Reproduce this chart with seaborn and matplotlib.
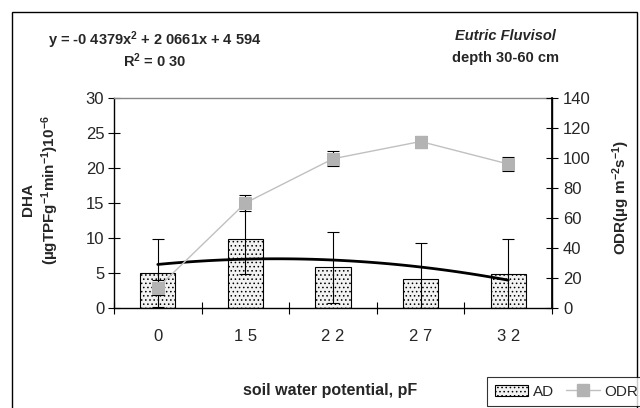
import matplotlib
matplotlib.use('Agg')  # headless

import matplotlib.pyplot as plt
import seaborn as sns
import numpy as np
import pandas as pd
from matplotlib.patches import Rectangle, Patch
from matplotlib.lines import Line2D

# data
pf_labels = ["0", "1 5", "2 2", "2 7", "3 2"]
dha = [5.0, 9.8, 5.8, 4.2, 4.8]
dha_err = [4.9, 5.0, 5.1, 5.1, 5.1]
odr = [13.5, 70.0, 99.5, 111.0, 96.0]
odr_err = [5.0, 5.5, 5.0, 4.0, 4.5]
trend_coef = [-0.4379, 2.0661, 4.594]  # from the equation shown on the chart

sns.set_theme(style="white")
plt.rcParams['font.family'] = ['Liberation Sans', 'DejaVu Sans']
plt.rcParams['mathtext.fontset'] = 'custom'
plt.rcParams['mathtext.rm'] = 'Liberation Sans'
plt.rcParams['mathtext.bf'] = 'Liberation Sans:bold'
plt.rcParams['mathtext.it'] = 'Liberation Sans:italic'
plt.rcParams['mathtext.default'] = 'bf'
plt.rcParams['hatch.linewidth'] = 0.6
plt.rcParams['hatch.color'] = '#555555'

fig = plt.figure(figsize=(6.4, 4.08), dpi=100)
ax = fig.add_axes([114 / 640, 1 - 308 / 408, 438 / 640, 210 / 408])

# bars
df = pd.DataFrame({"pF": pf_labels, "DHA": dha})
sns.barplot(data=df, x="pF", y="DHA", ax=ax, width=0.4, color="#f2f2f2",
            edgecolor="black", linewidth=0.8, hatch="....", saturation=1,
            errorbar=None)
ax.errorbar(range(len(dha)), dha, yerr=dha_err, fmt="none", ecolor="black",
            elinewidth=0.8, capsize=4, capthick=0.8, zorder=3)

# polynomial trendline over category index 1..5
xs = np.linspace(1, len(dha), 60)
sns.lineplot(x=xs - 1, y=np.polyval(trend_coef, xs), ax=ax, color="black",
             linewidth=2, zorder=4)

ax.set_xlim(-0.5, 4.5)
ax.set_ylim(0, 30)
ax.set_yticks(range(0, 31, 5))
ax.set_xlabel("")
ax.set_ylabel("")
ax.set_xticks(range(len(pf_labels)))
ax.set_xticklabels(pf_labels)
ax.set_xticks(np.arange(-0.5, 4.6, 1.0), minor=True)
ax.tick_params(axis="x", which="major", length=0, pad=15, labelsize=12)
ax.tick_params(axis="x", which="minor", direction="inout", length=8,
               width=0.8, color="black", bottom=True)
ax.tick_params(axis="y", direction="inout", length=8, width=0.8,
               color="black", left=True, pad=3, labelsize=12)
for s in ["left", "bottom", "right"]:
    ax.spines[s].set_color("black")
    ax.spines[s].set_linewidth(1)
ax.spines["top"].set_color("#888888")
ax.spines["top"].set_linewidth(1)

# ODR on secondary axis
ax2 = ax.twinx()
ax2.errorbar(range(len(odr)), odr, yerr=odr_err, fmt="none", ecolor="black",
             elinewidth=0.8, capsize=4, capthick=0.8, zorder=2)
sns.lineplot(x=list(range(len(odr))), y=odr, ax=ax2, color="#c0c0c0",
             linewidth=1, marker="s", markersize=9, markerfacecolor="#b3b3b3",
             markeredgecolor="#b3b3b3", zorder=3)
ax2.set_ylim(0, 140)
ax2.set_yticks(range(0, 141, 20))
ax2.set_ylabel("")
ax2.tick_params(axis="y", direction="inout", length=8, width=0.8,
                color="black", right=True, pad=4, labelsize=12)
for s in ax2.spines.values():
    s.set_visible(False)
ax2.spines["right"].set_visible(True)
ax2.spines["right"].set_color("black")

# texts
fig.text(155 / 640, 1 - 40 / 408, r"y = -0 4379x$^2$ + 2 0661x + 4 594",
         ha="center", va="center", fontsize=10.5, fontweight="bold")
fig.text(155 / 640, 1 - 61 / 408, r"R$^2$ = 0 30",
         ha="center", va="center", fontsize=10.5, fontweight="bold")
fig.text(505 / 640, 1 - 36 / 408, "Eutric Fluvisol", ha="center",
         va="center", fontsize=10.5, fontweight="bold", style="italic")
fig.text(505 / 640, 1 - 58 / 408, "depth 30-60 cm", ha="center",
         va="center", fontsize=10.5, fontweight="bold")
fig.text(28 / 640, 1 - 200 / 408, "DHA", rotation=90, ha="center",
         va="center", fontsize=11, fontweight="bold")
fig.text(50 / 640, 1 - 190 / 408, r"(µgTPFg$^{-1}$min$^{-1}$)10$^{-6}$",
         rotation=90, ha="center", va="center", fontsize=11, fontweight="bold")
fig.text(621 / 640, 1 - 197 / 408, r"ODR(µg m$^{-2}$s$^{-1}$)", rotation=90,
         ha="center", va="center", fontsize=11, fontweight="bold")
fig.text(330 / 640, 1 - 391 / 408, "soil water potential, pF", ha="center",
         va="center", fontsize=11.5, fontweight="bold")

# outer chart frame
fig.patches.append(Rectangle((12 / 640, -0.05), 625 / 640, 1.05 - 12 / 408,
                             transform=fig.transFigure, fill=False,
                             edgecolor="black", linewidth=1))

# legend
handles = [
    Patch(facecolor="#f2f2f2", edgecolor="black", hatch="....", linewidth=0.8),
    Line2D([0], [0], color="#c0c0c0", linewidth=1, marker="s", markersize=9,
           markerfacecolor="#b3b3b3", markeredgecolor="#b3b3b3"),
]
leg = fig.legend(handles, ["AD", "ODR"], loc="upper left",
                 bbox_to_anchor=(487 / 640, 1 - 377 / 408), ncol=2,
                 frameon=True, fancybox=False, fontsize=11, borderpad=0.5,
                 borderaxespad=0, handlelength=2.2, columnspacing=0.8,
                 handletextpad=0.3)
leg.get_frame().set_edgecolor("black")
leg.get_frame().set_linewidth(0.8)

fig.savefig("out.png", dpi=100)
